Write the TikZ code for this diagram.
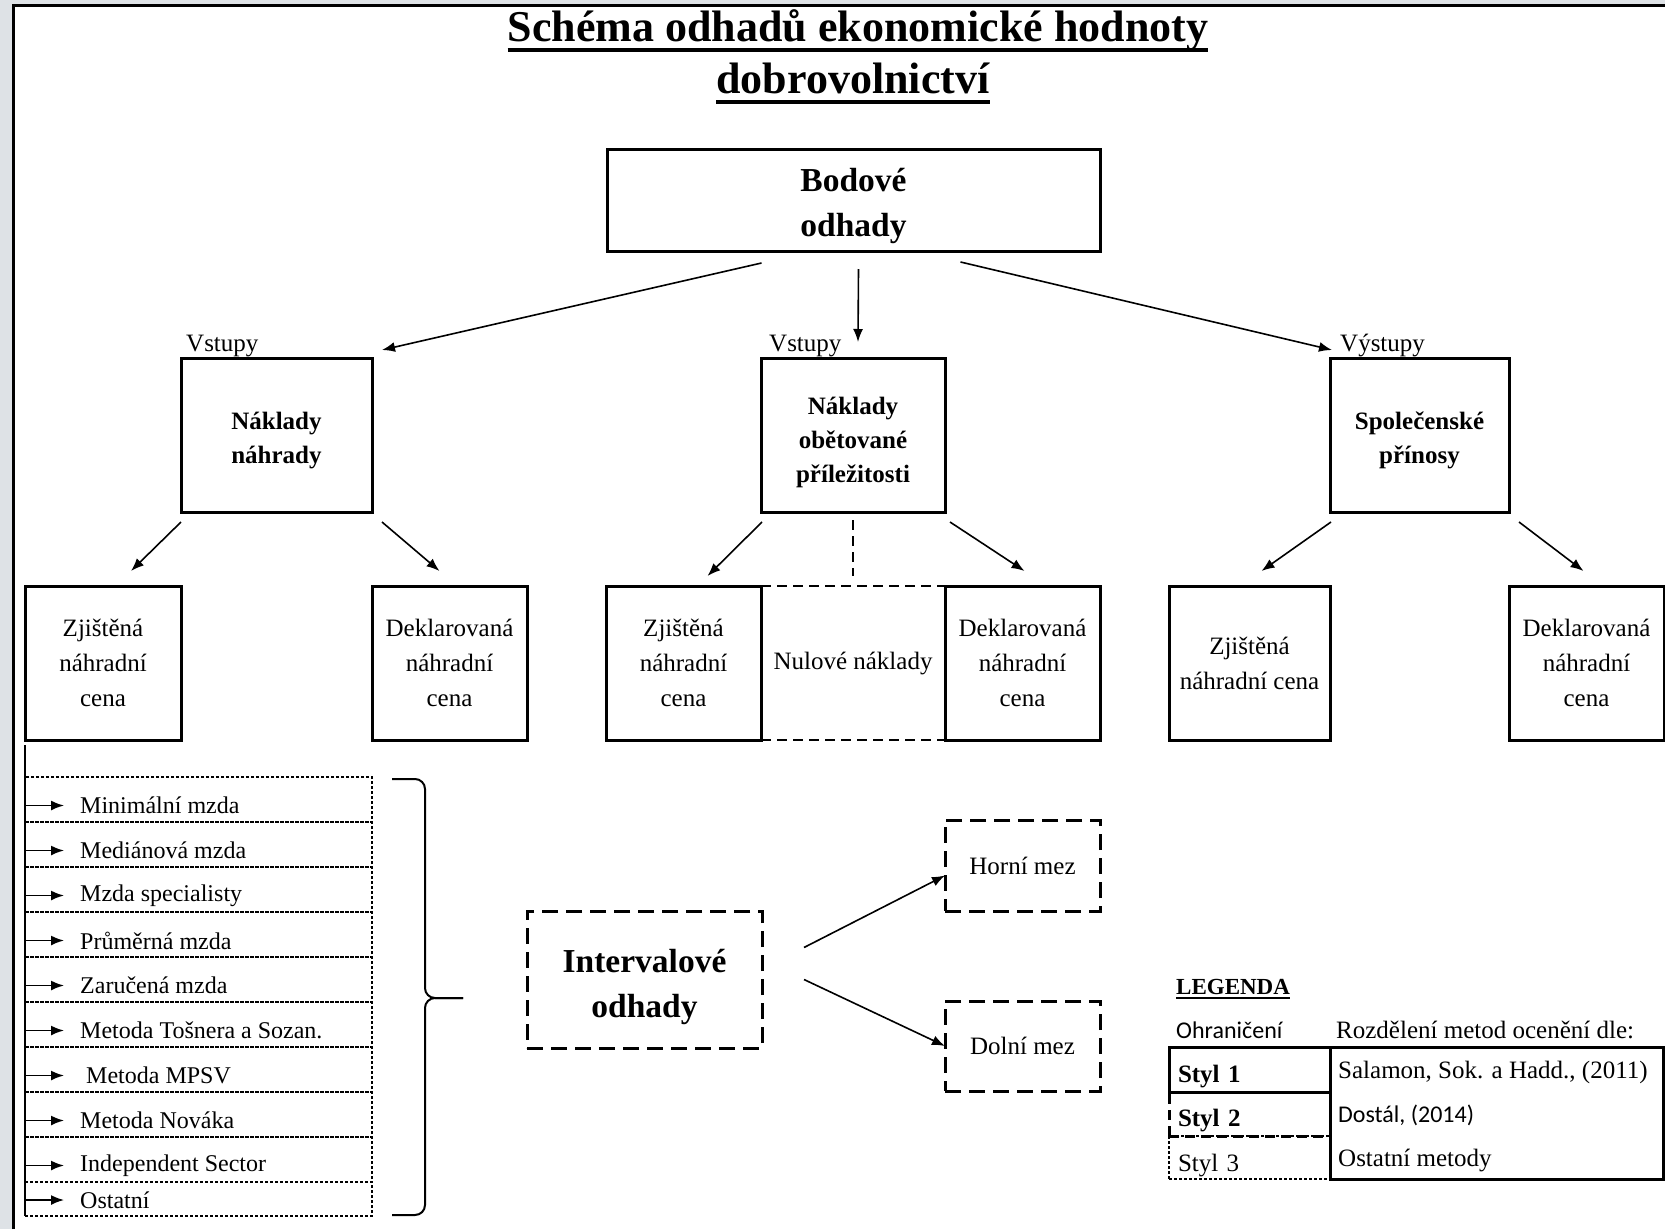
\documentclass[tikz,border=0pt]{standalone}
\usepackage{fontspec}
\setmainfont{Liberation Serif}
\newfontfamily\calibrifont{Carlito}
\usetikzlibrary{positioning,arrows.meta}
\definecolor{pagegray}{HTML}{DEE2E6}

\newcommand\boxfont{\normalfont\fontsize{25}{35}\selectfont}
\newcommand\itemfont{\normalfont\fontsize{24}{30}\selectfont}
\newcommand\headfont{\normalfont\bfseries\fontsize{25}{34}\selectfont}
\newcommand\bigheadfont{\normalfont\bfseries\fontsize{33.5}{45}\selectfont}
\newcommand\titlefont{\normalfont\bfseries\fontsize{44}{50}\selectfont}
\newcommand\legendsans{\calibrifont\fontsize{24}{30}\selectfont}

\begin{document}
\begin{tikzpicture}[x=1pt,y=-1pt,>={Latex[length=13pt,width=10pt]},
                    basenode/.style={draw,line width=3pt,align=center,inner sep=0pt,outer sep=0pt},
                    topbox/.style={basenode,minimum width=493pt,minimum height=102pt,text height=73pt,text depth=0pt,font=\bigheadfont},
                    kindbox/.style={basenode,minimum height=154pt,text depth=0pt,font=\headfont},
                    pricebox/.style={basenode,minimum width=155pt,minimum height=154pt,font=\boxfont},
                    boundbox/.style={basenode,dash pattern=on 16pt off 8pt,minimum width=155pt},
                    itemrow/.style={draw,line width=1.2pt,dash pattern=on 3pt off 2pt,minimum width=347pt,minimum height=45pt,inner sep=0pt,outer sep=0pt},
                    itemtext/.style={draw=none,anchor=west,xshift=55pt,yshift=-6pt,inner sep=0pt,font=\itemfont},
                    tag/.style={draw=none,anchor=base west,inner sep=0pt,yshift=7pt,font=\boxfont},
                    legendcell/.style={basenode,minimum width=161pt,text width=143pt,align=left,inner xsep=9pt,text height=30pt,text depth=5pt},
                    legendtext/.style={anchor=west,inner sep=0pt,font=\boxfont},
                    link/.style={->,line width=1.6pt},
                    itemlink/.style={-{Latex[length=13pt,width=10pt]},line width=1.6pt},
                    thindash/.style={line width=1.6pt,dash pattern=on 10pt off 6pt}]
  \useasboundingbox (0,0) rectangle (1665,1229);
  \fill[pagegray] (0,0) rectangle (1665,1229);
  \fill[white] (12,4) rectangle (1665,1229);
  \draw[line width=3pt] (13.5,1229) -- (13.5,5) -- (1665,5);

  \node[anchor=base,inner sep=0pt,font=\titlefont] (title1) at (858,41) {Schéma odhadů ekonomické hodnoty};
  \node[anchor=base,inner sep=0pt,font=\titlefont] (title2) at (853,93) {dobrovolnictví};
  \draw[line width=3.5pt] ([yshift=-9pt]title1.base west) -- ([yshift=-9pt]title1.base east);
  \draw[line width=3.5pt] ([yshift=-9pt]title2.base west) -- ([yshift=-9pt]title2.base east);

  \node[topbox] (bodove) at (853.5,200) {Bodové\\odhady};
  \node[kindbox,minimum width=191pt,text height=56pt,label={[tag,xshift=5pt]north west:Vstupy}] (nahrady) at (276.5,435) {Náklady\\náhrady};
  \node[kindbox,minimum width=184pt,text height=95pt,label={[tag,xshift=8pt]north west:Vstupy}] (obetovane) at (853,435) {Náklady\\obětované\\příležitosti};
  \node[kindbox,minimum width=179pt,text height=56pt,label={[tag,xshift=10pt]north west:Výstupy}] (prinosy) at (1419.5,435) {Společenské\\přínosy};

  \node[pricebox,minimum width=156pt] (zj-nahr) [below left=74pt and 0pt of nahrady] {Zjištěná\\náhradní\\cena};
  \node[pricebox] (dek-nahr) [below right=74pt and 0pt of nahrady] {Deklarovaná\\náhradní\\cena};
  \node[pricebox] (zj-obet) [below left=74pt and 0pt of obetovane] {Zjištěná\\náhradní\\cena};
  \node[minimum width=184pt,minimum height=154pt,inner sep=0pt,outer sep=0pt,font=\boxfont] (nulove) [below=74pt of obetovane] {Nulové náklady};
  \node[pricebox] (dek-obet) [below right=74pt and 0pt of obetovane] {Deklarovaná\\náhradní\\cena};
  \node[pricebox,minimum width=161pt] (zj-prin) [below left=74pt and 0pt of prinosy] {Zjištěná\\náhradní cena};
  \node[pricebox] (dek-prin) [below right=74pt and 0pt of prinosy] {Deklarovaná\\náhradní\\cena};

  \node[itemrow,label={[itemtext,name=t1]west:Minimální mzda}] (r1) at (198.5,799.5) {};
  \node[itemrow,label={[itemtext,name=t2]west:Mediánová mzda}] (r2) [below=0pt of r1] {};
  \node[itemrow,label={[itemtext,name=t3]west:Mzda specialisty}] (r3) [below=0pt of r2] {};
  \node[itemrow,label={[itemtext,name=t4]west:Průměrná mzda}] (r4) [below=0pt of r3] {};
  \node[itemrow,label={[itemtext,name=t5]west:Zaručená mzda}] (r5) [below=0pt of r4] {};
  \node[itemrow,label={[itemtext,name=t6]west:Metoda Tošnera a Sozan.}] (r6) [below=0pt of r5] {};
  \node[itemrow,label={[itemtext,xshift=6pt,name=t7]west:Metoda MPSV}] (r7) [below=0pt of r6] {};
  \node[itemrow,label={[itemtext,name=t8]west:Metoda Nováka}] (r8) [below=0pt of r7] {};
  \node[itemrow,label={[itemtext,name=t9]west:Independent Sector}] (r9) [below=0pt of r8] {};
  \node[itemrow,minimum height=34pt,label={[itemtext,yshift=5pt,name=t10]west:Ostatní}] (r10) [below=0pt of r9] {};

  \node[boundbox,minimum width=235pt,minimum height=137pt,text height=75pt,text depth=0pt,font=\bigheadfont] (interval) at (644.5,979.5) {Intervalové\\odhady};
  \node[boundbox,minimum height=91pt,font=\boxfont] (horni) at (1022.5,865.5) {Horní mez};
  \node[boundbox,minimum height=90pt,font=\boxfont] (dolni) at (1022.5,1046) {Dolní mez};

  \node[anchor=base west,inner sep=0pt,font=\normalfont\bfseries\fontsize{23}{28}\selectfont] (legenda) at (1176,994) {LEGENDA};
  \draw[line width=2pt] ([yshift=-4pt]legenda.base west) -- ([yshift=-4pt]legenda.base east);
  \node[anchor=base west,inner sep=0pt,font=\legendsans] (ohraniceni) at (1176,1038) {Ohraničení};
  \node[anchor=base west,inner sep=0pt,font=\boxfont] (rozdeleni) at (1336,1038) {Rozdělení metod ocenění dle:};
  \node[legendcell,minimum height=45pt,font=\headfont] (styl1) at (1249.5,1069.5) {Styl 1};
  \node[legendcell,minimum height=44pt,dash pattern=on 10pt off 6pt,font=\headfont] (styl2) [below=0pt of styl1] {Styl 2};
  \node[legendcell,minimum height=43pt,line width=1.2pt,dash pattern=on 3pt off 2pt,text height=33pt,font=\boxfont] (styl3) [below=0pt of styl2] {Styl 3};
  \node[basenode,minimum width=333pt,minimum height=132pt] (metody) [below right=0pt and 0pt of styl1.north east] {};
  \node[legendtext] (salamon) at (1338,1072) {Salamon, Sok. a Hadd., (2011)};
  \node[legendtext,font=\legendsans] (dostal) at (1338,1115) {Dostál, (2014)};
  \node[legendtext] (ostatni) at (1338,1160) {Ostatní metody};

  \draw[link] ([xshift=-92pt,yshift=-12pt]bodove.south) -- ([xshift=10pt,yshift=8pt]nahrady.north east);
  \draw[link] ([xshift=5pt,yshift=-18pt]bodove.south) -- ([xshift=5pt,yshift=16pt]obetovane.north);
  \draw[link] ([xshift=107pt,yshift=-11pt]bodove.south) -- ([xshift=2pt,yshift=8pt]prinosy.north west);
  \draw[link] ([yshift=-10pt]nahrady.south west) -- ([xshift=28pt,yshift=15pt]zj-nahr.north);
  \draw[link] ([xshift=10pt,yshift=-10pt]nahrady.south east) -- ([xshift=-10pt,yshift=15pt]dek-nahr.north);
  \draw[link] ([xshift=1pt,yshift=-10pt]obetovane.south west) -- ([xshift=24pt,yshift=10pt]zj-obet.north);
  \draw[link] ([xshift=5pt,yshift=-10pt]obetovane.south east) -- ([xshift=2pt,yshift=15pt]dek-obet.north);
  \draw[thindash] ([yshift=-8pt]obetovane.south) -- ([yshift=10pt]nulove.north);
  \draw[thindash] (nulove.north west) -- (nulove.north east);
  \draw[thindash] (nulove.south west) -- (nulove.south east);
  \draw[link] ([xshift=1pt,yshift=-10pt]prinosy.south west) -- ([xshift=12pt,yshift=15pt]zj-prin.north);
  \draw[link] ([xshift=10pt,yshift=-10pt]prinosy.south east) -- ([xshift=-3pt,yshift=15pt]dek-prin.north);
  \draw[link] ([xshift=42pt,yshift=32pt]interval.east) -- ([yshift=-10pt]horni.west);
  \draw[link] ([xshift=42pt]interval.east) -- (dolni.west);

  \draw[line width=1.6pt] ([yshift=-5pt]zj-nahr.south west) -- (r10.south west);
  \draw[itemlink] (r1.west |- t1.west) -- ([xshift=-16pt]t1.west);
  \draw[itemlink] (r2.west |- t2.west) -- ([xshift=-16pt]t2.west);
  \draw[itemlink] (r3.west |- t3.west) -- ([xshift=-16pt]t3.west);
  \draw[itemlink] (r4.west |- t4.west) -- ([xshift=-16pt]t4.west);
  \draw[itemlink] (r5.west |- t5.west) -- ([xshift=-16pt]t5.west);
  \draw[itemlink] (r6.west |- t6.west) -- ([xshift=-16pt]t6.west);
  \draw[itemlink] (r7.west |- t7.west) -- ([xshift=-22pt]t7.west);
  \draw[itemlink] (r8.west |- t8.west) -- ([xshift=-16pt]t8.west);
  \draw[itemlink] (r9.west |- t9.west) -- ([xshift=-16pt]t9.west);
  \draw[itemlink] (r10.west |- t10.west) -- ([xshift=-16pt]t10.west);
  \draw[line width=2pt,rounded corners=10pt] (392,779) -| (425,998) -- (463,998);
  \draw[line width=2pt,rounded corners=10pt] (392,1215) -| (425,998) -- (463,998);
\end{tikzpicture}
\end{document}
